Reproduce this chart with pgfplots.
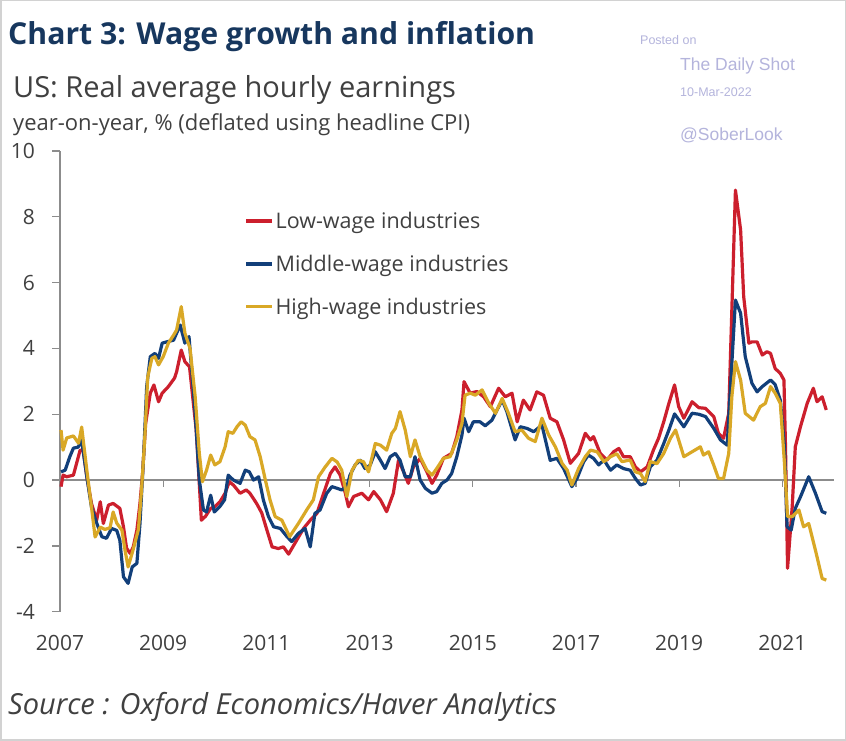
\documentclass[border=0pt]{standalone}
\usepackage{fontspec}
\setmainfont{Open Sans}
\newfontfamily\arialfont{Liberation Sans}
\usepackage{pgfplots}
\usepackage{pgfplotstable}
\pgfplotsset{compat=1.18}
\definecolor{lowc}{HTML}{CC1F2D}
\definecolor{midc}{HTML}{123F7A}
\definecolor{highc}{HTML}{D9A826}
\definecolor{titlec}{HTML}{17375E}
\definecolor{textc}{HTML}{404040}
\definecolor{wm}{HTML}{B4B4DC}
\definecolor{axc}{HTML}{8C8C8C}

\pgfplotstableread{
x y
2007.02 -0.20
2007.06 0.15
2007.13 0.10
2007.26 0.15
2007.32 0.50
2007.39 0.91
2007.45 0.90
2007.52 0.10
2007.61 -0.71
2007.71 -1.22
2007.78 -0.66
2007.84 -1.32
2007.94 -0.76
2008.03 -0.71
2008.16 -0.86
2008.23 -1.42
2008.29 -2.07
2008.36 -2.23
2008.42 -2.03
2008.49 -1.52
2008.55 -0.71
2008.60 0.20
2008.66 1.72
2008.75 2.64
2008.82 2.89
2008.91 2.38
2008.98 2.64
2009.10 2.84
2009.22 3.10
2009.26 3.29
2009.35 3.95
2009.42 3.60
2009.51 3.44
2009.64 1.52
2009.74 -1.22
2009.82 -1.10
2009.92 -0.86
2010.00 -0.81
2010.10 -0.66
2010.20 -0.40
2010.28 -0.05
2010.36 -0.15
2010.49 -0.40
2010.61 -0.30
2010.68 -0.40
2010.81 -0.71
2010.91 -1.00
2011.01 -1.52
2011.11 -2.03
2011.23 -2.08
2011.33 -2.03
2011.43 -2.25
2011.59 -1.82
2011.72 -1.47
2011.85 -1.22
2011.98 -1.01
2012.11 -0.40
2012.24 0.20
2012.33 0.40
2012.43 0.15
2012.53 -0.40
2012.59 -0.81
2012.69 -0.50
2012.85 -0.40
2012.98 -0.60
2013.08 -0.35
2013.21 -0.60
2013.33 -0.96
2013.46 -0.40
2013.56 0.60
2013.66 0.25
2013.75 -0.10
2013.85 0.40
2013.98 0.66
2014.11 0.25
2014.21 -0.10
2014.30 0.15
2014.43 0.66
2014.59 0.81
2014.69 1.32
2014.79 2.13
2014.83 2.99
2014.95 2.64
2015.08 2.69
2015.21 2.53
2015.34 2.23
2015.50 2.79
2015.63 2.53
2015.76 2.64
2015.86 1.77
2015.98 2.43
2016.11 2.13
2016.24 2.68
2016.37 2.58
2016.50 1.88
2016.63 1.77
2016.76 1.22
2016.89 0.51
2017.05 0.81
2017.18 1.42
2017.28 1.22
2017.34 1.32
2017.47 0.81
2017.60 0.61
2017.73 0.86
2017.83 0.96
2017.92 0.71
2018.05 0.71
2018.15 0.40
2018.25 0.25
2018.38 0.40
2018.50 0.91
2018.60 1.27
2018.70 1.77
2018.80 2.33
2018.91 2.89
2018.99 2.23
2019.09 1.88
2019.25 2.38
2019.38 2.20
2019.51 2.18
2019.67 1.93
2019.76 1.42
2019.86 1.27
2019.96 2.03
2020.09 8.81
2020.19 7.60
2020.25 5.57
2020.35 4.16
2020.41 4.20
2020.51 4.20
2020.61 3.80
2020.70 3.90
2020.77 3.85
2020.86 3.39
2020.96 3.24
2021.03 3.04
2021.06 1.01
2021.10 -2.68
2021.19 -0.81
2021.25 1.01
2021.35 1.62
2021.48 2.33
2021.60 2.79
2021.67 2.38
2021.77 2.53
2021.85 2.13
}\lowtab

\pgfplotstableread{
x y
2007.02 0.25
2007.10 0.30
2007.19 0.71
2007.26 0.97
2007.35 1.00
2007.42 1.20
2007.52 0.10
2007.61 -0.82
2007.71 -1.30
2007.81 -1.72
2007.90 -1.77
2008.00 -1.47
2008.10 -1.53
2008.16 -1.83
2008.23 -2.94
2008.32 -3.14
2008.40 -2.64
2008.49 -2.53
2008.55 -1.32
2008.62 0.71
2008.68 2.84
2008.75 3.75
2008.84 3.85
2008.91 3.70
2008.98 4.16
2009.07 4.20
2009.20 4.25
2009.33 4.71
2009.42 4.16
2009.50 4.36
2009.62 2.03
2009.70 0.00
2009.78 -0.91
2009.84 -0.97
2009.92 -0.46
2009.99 -0.97
2010.10 -0.80
2010.19 -0.60
2010.26 0.15
2010.36 0.00
2010.49 -0.10
2010.59 0.30
2010.67 0.25
2010.75 0.00
2010.85 0.10
2010.94 -0.60
2011.04 -1.11
2011.14 -1.42
2011.27 -1.47
2011.40 -1.72
2011.49 -1.87
2011.62 -1.62
2011.75 -1.47
2011.85 -2.03
2011.94 -1.01
2012.04 -0.91
2012.17 -0.40
2012.27 -0.20
2012.37 -0.25
2012.46 -0.30
2012.56 -0.20
2012.62 0.15
2012.72 0.46
2012.82 0.60
2012.91 0.35
2013.01 0.45
2013.11 0.86
2013.21 0.60
2013.30 0.35
2013.40 0.71
2013.50 0.81
2013.59 0.60
2013.69 0.10
2013.79 0.10
2013.88 0.71
2013.98 0.00
2014.08 -0.25
2014.21 -0.40
2014.30 -0.35
2014.40 -0.10
2014.50 0.00
2014.59 0.20
2014.69 0.71
2014.79 1.37
2014.83 1.88
2014.92 1.47
2015.01 1.77
2015.14 1.77
2015.24 1.65
2015.37 1.82
2015.47 2.13
2015.57 2.43
2015.66 2.08
2015.82 1.22
2015.92 1.62
2016.05 1.57
2016.18 1.47
2016.34 1.67
2016.50 0.60
2016.63 0.66
2016.76 0.35
2016.92 -0.20
2017.02 0.05
2017.15 0.56
2017.24 0.76
2017.34 0.66
2017.44 0.46
2017.54 0.61
2017.67 0.30
2017.79 0.46
2017.92 0.35
2018.05 0.30
2018.15 0.05
2018.25 -0.15
2018.34 -0.10
2018.44 0.40
2018.57 0.61
2018.70 1.11
2018.80 1.52
2018.91 2.01
2019.09 1.62
2019.25 2.03
2019.38 2.00
2019.51 1.93
2019.67 1.57
2019.80 1.22
2019.93 1.06
2020.09 5.47
2020.19 5.07
2020.28 3.75
2020.41 2.94
2020.51 2.68
2020.61 2.84
2020.77 3.04
2020.86 2.90
2020.96 2.43
2021.04 1.01
2021.09 -1.42
2021.17 -1.52
2021.25 -0.86
2021.35 -0.51
2021.51 0.10
2021.64 -0.40
2021.77 -0.96
2021.85 -1.01
}\midtab

\pgfplotstableread{
x y
2007.02 1.52
2007.06 0.91
2007.13 1.28
2007.26 1.34
2007.36 1.12
2007.42 1.61
2007.52 0.30
2007.61 -0.82
2007.68 -1.73
2007.78 -1.43
2007.87 -1.50
2007.97 -1.45
2008.03 -0.97
2008.10 -1.31
2008.20 -1.52
2008.26 -2.13
2008.32 -2.64
2008.42 -2.10
2008.52 -1.50
2008.58 -0.30
2008.64 1.20
2008.70 3.13
2008.78 3.70
2008.84 3.75
2008.91 3.50
2009.00 3.75
2009.10 4.16
2009.20 4.40
2009.26 4.56
2009.35 5.27
2009.42 4.47
2009.52 4.00
2009.62 2.53
2009.70 0.81
2009.76 -0.05
2009.84 0.30
2009.92 0.76
2010.00 0.46
2010.10 0.56
2010.20 1.01
2010.26 1.47
2010.35 1.42
2010.43 1.62
2010.51 1.77
2010.59 1.67
2010.68 1.32
2010.78 1.22
2010.88 0.71
2010.98 0.00
2011.07 -0.60
2011.17 -1.11
2011.30 -1.22
2011.45 -1.72
2011.62 -1.32
2011.78 -0.91
2011.91 -0.60
2012.01 0.10
2012.14 0.40
2012.27 0.66
2012.37 0.55
2012.46 0.30
2012.56 -0.50
2012.66 0.30
2012.78 0.60
2012.88 0.56
2012.98 0.25
2013.11 1.11
2013.21 1.06
2013.33 0.91
2013.43 1.42
2013.50 1.57
2013.59 2.08
2013.69 1.52
2013.79 0.71
2013.88 1.22
2013.98 0.71
2014.11 0.30
2014.21 0.15
2014.30 0.35
2014.43 0.66
2014.56 0.71
2014.69 1.22
2014.79 1.72
2014.85 2.58
2014.95 2.64
2015.05 2.58
2015.18 2.74
2015.31 2.33
2015.44 2.03
2015.57 2.48
2015.69 2.03
2015.82 1.47
2015.95 1.52
2016.08 1.27
2016.21 1.17
2016.34 1.88
2016.47 1.37
2016.60 1.01
2016.73 0.51
2016.83 0.30
2016.92 -0.15
2017.05 0.35
2017.18 0.71
2017.28 0.91
2017.41 0.86
2017.54 0.56
2017.67 0.71
2017.79 0.80
2017.89 0.56
2018.05 0.61
2018.15 0.25
2018.25 0.20
2018.34 -0.05
2018.44 0.56
2018.57 0.50
2018.70 0.81
2018.83 1.27
2018.93 1.52
2019.09 0.71
2019.25 0.86
2019.41 1.01
2019.47 0.76
2019.57 0.86
2019.67 0.45
2019.76 0.05
2019.86 0.05
2019.96 0.81
2020.02 2.53
2020.09 3.60
2020.19 3.04
2020.28 2.03
2020.44 1.82
2020.57 2.23
2020.67 2.33
2020.77 2.84
2020.86 2.64
2020.96 2.33
2021.04 0.51
2021.10 -1.11
2021.19 -1.11
2021.32 -0.91
2021.41 -1.42
2021.51 -1.32
2021.64 -2.13
2021.77 -2.99
2021.85 -3.04
}\hightab

\begin{document}
\begin{tikzpicture}[x=1pt,y=1pt]
\fill[white] (0pt,0pt) rectangle (846pt,741pt);
\draw[gray!35, line width=1.5pt] (0.75pt,0.75pt) rectangle (845.25pt,740.25pt);
% titles
\node[anchor=base west, inner sep=0, text=titlec, font=\bfseries\fontsize{30.2}{36}\selectfont] at (8pt,696pt) {Chart 3: Wage growth and inflation};
\node[anchor=base west, inner sep=0, text=textc, font=\fontsize{29}{34}\selectfont] at (13pt,643pt) {US: Real average hourly earnings};
\node[anchor=base west, inner sep=0, text=textc, font=\fontsize{22}{26}\selectfont] at (13pt,610pt) {year-on-year, \% (deflated using headline CPI)};
\node[anchor=base west, inner sep=0, text=textc, font=\itshape\fontsize{29}{34}\selectfont] at (8pt,26pt) {Source : Oxford Economics/Haver Analytics};
% watermark
\node[anchor=base west, inner sep=0, text=wm, font=\arialfont\fontsize{12.5}{15}\selectfont] at (640pt,696pt) {Posted on};
\node[anchor=base west, inner sep=0, text=wm, font=\arialfont\fontsize{17.5}{21}\selectfont] at (680pt,670pt) {The Daily Shot};
\node[anchor=base west, inner sep=0, text=wm, font=\arialfont\fontsize{12.5}{15}\selectfont] at (680pt,644pt) {10-Mar-2022};
\node[anchor=base west, inner sep=0, text=wm, font=\arialfont\fontsize{17.5}{21}\selectfont] at (680pt,600pt) {@SoberLook};
\begin{axis}[
  at={(60pt,129.3pt)}, anchor=south west,
  scale only axis, width=774pt, height=460.7pt,
  xmin=2007, xmax=2022, ymin=-4, ymax=10,
  axis lines*=left,
  axis line style={draw=axc, line width=1.3pt},
  x axis line style={draw=none},
  xtick={2007,2009,...,2021},
  xtick style={draw=none},
  xticklabel style={anchor=north, inner sep=0pt, yshift=-15pt, text=textc, font=\fontsize{21}{24}\selectfont},
  ytick={-4,-2,...,10},
  ytick style={draw=axc, line width=1.3pt},
  tick align=outside,
  major tick length=8pt,
  yticklabel style={anchor=east, inner sep=0pt, xshift=-17pt, text=textc, font=\fontsize{21}{24}\selectfont},
  /pgf/number format/assume math mode=true,
  /pgf/number format/1000 sep={},
  xticklabel={\pgfmathprintnumber[1000 sep={}]{\tick}},
  clip=false,
  legend style={at={(0.238,0.872)}, anchor=north west, draw=none, fill=none,
    font=\fontsize{21.5}{25}\selectfont, text=textc, row sep=21pt, inner sep=0pt,
    nodes={inner sep=2pt}},
  legend cell align=left,
  legend image code/.code={\draw[#1, line width=3.2pt] (0pt,0pt) -- (26pt,0pt);},
]
\draw[axc, line width=1.3pt] (axis cs:2007,0) -- (axis cs:2022,0);
\pgfplotsinvokeforeach{2009,2011,...,2021}{
  \draw[axc, line width=1.3pt] (axis cs:#1,0) -- ++(0pt,-7pt);
}
\addplot[lowc, line width=3.2pt, line join=round, no markers] table {\lowtab};
\addlegendentry{Low-wage industries}
\addplot[midc, line width=3.2pt, line join=round, no markers] table {\midtab};
\addlegendentry{Middle-wage industries}
\addplot[highc, line width=3.2pt, line join=round, no markers] table {\hightab};
\addlegendentry{High-wage industries}
\end{axis}
\end{tikzpicture}
\end{document}
